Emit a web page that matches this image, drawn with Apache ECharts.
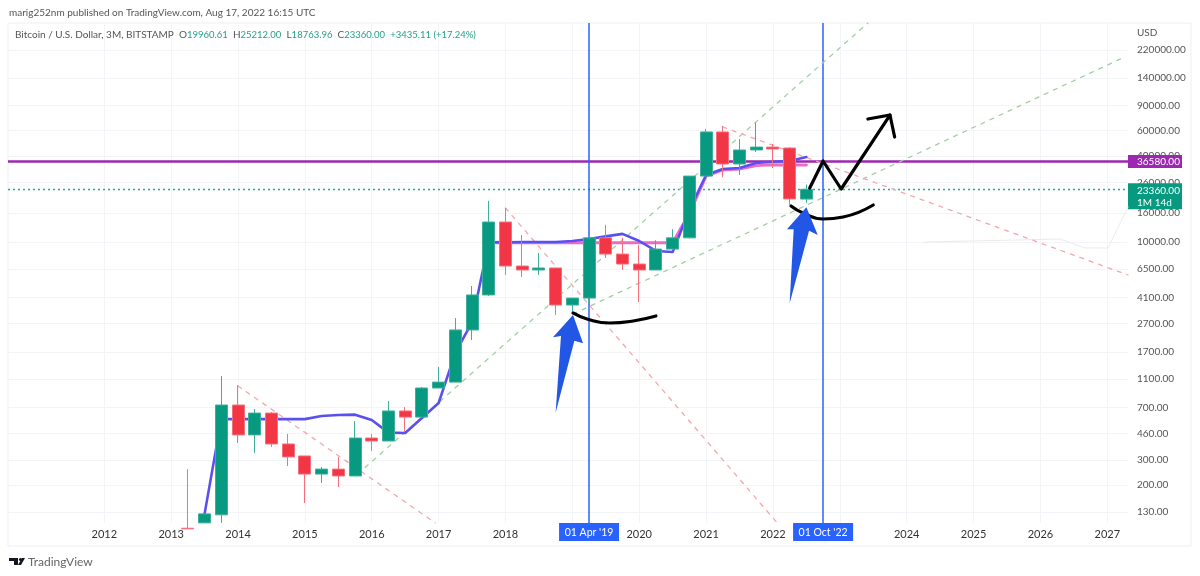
<!DOCTYPE html>
<html>
<head>
<meta charset="utf-8">
<style>
  html, body { margin: 0; padding: 0; background: #fff; }
  #chart { width: 1200px; height: 576px; }
</style>
<script src="https://cdn.jsdelivr.net/npm/echarts@6/dist/echarts.min.js"></script>
</head>
<body>
<div id="chart"></div>
<script>
// quarter start as fractional year, one per candle
const quarters = [
  2013.25, 2013.5, 2013.75,
  2014, 2014.25, 2014.5, 2014.75,
  2015, 2015.25, 2015.5, 2015.75,
  2016, 2016.25, 2016.5, 2016.75,
  2017, 2017.25, 2017.5, 2017.75,
  2018, 2018.25, 2018.5, 2018.75,
  2019, 2019.25, 2019.5, 2019.75,
  2020, 2020.25, 2020.5, 2020.75,
  2021, 2021.25, 2021.5, 2021.75,
  2022, 2022.25, 2022.5
];

// open, close, low, high
const candles = [
  [100, 99, 99, 259],
  [109, 126, 109, 126],
  [124, 726, 109, 1160],
  [726, 449, 394, 1000],
  [449, 638, 336, 681],
  [638, 388, 370, 649],
  [388, 315, 272, 456],
  [320, 239, 150, 320],
  [239, 259, 207, 268],
  [259, 232, 194, 315],
  [232, 427, 232, 560],
  [427, 407, 347, 456],
  [407, 660, 407, 775],
  [660, 598, 470, 703],
  [598, 955, 598, 970],
  [955, 1050, 955, 1340],
  [1050, 2430, 1050, 2940],
  [2430, 4270, 2070, 4930],
  [4270, 13800, 4200, 19400],
  [13800, 6800, 5890, 17300],
  [6800, 6380, 5700, 11200],
  [6380, 6590, 5890, 8380],
  [6590, 3630, 3090, 6590],
  [3630, 4060, 3300, 4060],
  [4060, 10700, 3750, 10700],
  [10700, 8240, 7730, 13200],
  [8240, 7020, 6380, 10700],
  [7020, 6380, 3810, 9530],
  [6380, 8930, 6380, 10300],
  [8930, 10700, 8930, 12300],
  [10700, 28900, 10600, 28900],
  [28900, 58800, 28900, 61700],
  [58800, 35100, 28400, 64700],
  [35100, 44000, 29400, 52500],
  [44000, 46100, 42600, 67900],
  [46100, 44700, 32900, 48400],
  [45400, 20000, 18200, 46100],
  [19960, 23360, 18764, 25212]
];

const blueQuarters = quarters.slice(1);
const blueLine = [
  126, 579, 579, 579, 579, 579, 579, 608, 618, 622, 570, 466, 463, 589, 750, 1680,
  2760, 10000, 9950, 10000, 10000, 10000, 10170, 10500, 10950, 11400, 10170,
  8660, 8520, 16750, 29400, 32400, 32900, 35700, 36400, 36800, 39300
];
const pinkQuarters = quarters.slice(18);
const pinkLine = [
  9900, 9900, 9900, 9900, 9900, 9900, 9900, 9900, 9900, 9900, 9900, 9900,
  15800, 28900, 31900, 32400, 34200, 34700, 34550, 34550
];

// drawn lines, [year, price]
const greenFans = [
  [[2015.79, 239], [2023.42, 339400]],
  [[2019.01, 3141], [2027.26, 196400]]
];
const redFans = [
  [[2014, 986], [2016.95, 109]],
  [[2018, 17300], [2022.05, 111]],
  [[2021.25, 63700], [2027.31, 5885]]
];
const grayLine = [[2024.27, 10000], [2026.29, 10500], [2026.67, 9090], [2027.01, 9090], [2027.31, 17570]];
const zigzag = [[2022.55, 23860], [2022.75, 36840], [2023.02, 23480], [2023.75, 77200]];
const arrowHead = [[2023.42, 72400], [2023.75, 77200], [2023.82, 54200]];
const curveOld = [[2019.01, 3193], [2019.22, 2899], [2019.56, 2718], [2019.91, 2807], [2020.25, 3042]];
const curveNew = [[2022.27, 17860], [2022.45, 15960], [2022.75, 14490], [2023.05, 14960], [2023.5, 18150]];
const blueArrows = [
  [[2018.75, 642], [2018.83, 2205], [2018.71, 2159], [2019.01, 3092], [2019.16, 1961], [2019.03, 2045]],
  [[2022.25, 3733], [2022.31, 12270], [2022.21, 12270], [2022.5, 17490], [2022.67, 11200], [2022.54, 12000]]
];

const yearLabels = [2012, 2013, 2014, 2015, 2016, 2017, 2018, 2020, 2021, 2022, 2024, 2025, 2026, 2027];
const yearGrid = [2012, 2013, 2014, 2015, 2016, 2017, 2018, 2019, 2020, 2021, 2022, 2023, 2024, 2025, 2026, 2027];
const priceTicks = [130, 200, 300, 460, 700, 1100, 1700, 2700, 4100, 6500, 10000, 16000, 26000, 40000, 60000, 90000, 140000, 220000];

const FONT = 'Lato, "Open Sans", sans-serif';
const GREEN = '#089981';
const RED = '#f23645';
const BLUE = '#2962ff';
const PURPLE = '#9c27b0';

function zip(xs, ys) {
  return xs.map((x, i) => [x, ys[i]]);
}

function drawnLine(data, color, width, type, smooth, z) {
  return {
    type: 'line',
    data: data,
    smooth: smooth,
    symbol: 'none',
    silent: true,
    z: z,
    lineStyle: { color: color, width: width, type: type, cap: 'round', join: 'round' }
  };
}

function arrowSeries(points) {
  return {
    type: 'custom',
    data: points,
    silent: true,
    z: 8,
    encode: { x: 0, y: 1 },
    renderItem: function (params, api) {
      if (params.dataIndex !== 0) return null;
      return {
        type: 'polygon',
        shape: { points: points.map(p => api.coord(p)) },
        style: { fill: '#2257e6' }
      };
    }
  };
}

const chart = echarts.init(document.getElementById('chart'));

chart.setOption({
  animation: false,
  backgroundColor: '#fff',
  textStyle: { fontFamily: FONT },
  title: [
    {
      text: 'marig252nm published on TradingView.com, Aug 17, 2022 16:15 UTC',
      left: 9, top: 8, padding: 0,
      textStyle: { fontFamily: FONT, fontSize: 10, fontWeight: 'normal', color: '#555' }
    },
    {
      text: '{n|Bitcoin / U.S. Dollar, 3M, BITSTAMP}  {n|O}{g|19960.61}  {n|H}{g|25212.00}  {n|L}{g|18763.96}  {n|C}{g|23360.00}  {g|+3435.11 (+17.24%)}',
      left: 15, top: 30, padding: 0,
      textStyle: {
        fontFamily: FONT, fontSize: 10, fontWeight: 'normal',
        rich: {
          n: { fontFamily: FONT, fontSize: 10, color: '#555' },
          g: { fontFamily: FONT, fontSize: 9.5, color: '#26a08a' }
        }
      }
    },
    {
      text: 'USD', left: 1137, top: 28, padding: 0,
      textStyle: { fontFamily: FONT, fontSize: 10, fontWeight: 'normal', color: '#555' }
    },
    {
      text: 'TradingView', left: 28, top: 556, padding: 0,
      textStyle: { fontFamily: FONT, fontSize: 12, fontWeight: 'normal', color: '#666' }
    }
  ],
  grid: { left: 8, right: 72, top: 23, bottom: 53 },
  xAxis: {
    type: 'value',
    min: 2010.56,
    max: 2027.31,
    axisLine: { show: false },
    axisTick: { show: false, customValues: yearGrid },
    axisLabel: {
      customValues: yearLabels,
      margin: 6,
      fontSize: 11,
      color: '#333',
      fontFamily: FONT,
      formatter: v => String(v)
    },
    splitLine: { lineStyle: { color: '#f2f4f8', width: 1 } }
  },
  yAxis: {
    type: 'log',
    logBase: 10,
    min: 108.8,
    max: 339400,
    position: 'right',
    axisLine: { show: false },
    axisTick: { show: false, customValues: priceTicks },
    axisLabel: {
      customValues: priceTicks,
      margin: 9,
      fontSize: 10,
      color: '#555',
      fontFamily: FONT,
      formatter: v => Number(v).toFixed(2)
    },
    splitLine: { show: true, lineStyle: { color: '#f2f4f8', width: 1 } }
  },
  graphic: [
    {
      type: 'rect', z: -1, silent: true,
      shape: { x: 8, y: 23, width: 1183, height: 523 },
      style: { fill: 'none', stroke: '#eceff3', lineWidth: 1 }
    },
    {
      type: 'polygon', silent: true,
      shape: { points: [[9, 558], [18, 558], [18, 565], [14, 565], [14, 561], [9, 561]] },
      style: { fill: '#131722' }
    },
    {
      type: 'circle', silent: true,
      shape: { cx: 20.5, cy: 559.5, r: 1.6 },
      style: { fill: '#131722' }
    },
    {
      type: 'polygon', silent: true,
      shape: { points: [[22, 558], [25, 558], [21, 565], [18, 565]] },
      style: { fill: '#131722' }
    }
  ],
  series: [
    {
      type: 'line',
      data: [],
      silent: true,
      markLine: {
        silent: true,
        z: 1,
        symbol: 'none',
        animation: false,
        data: [
          {
            yAxis: 36580,
            lineStyle: { color: PURPLE, width: 2.5, type: 'solid' },
            label: {
              position: 'end', distance: 0, formatter: '36580.00',
              backgroundColor: PURPLE, color: '#fff', fontFamily: FONT, fontSize: 10,
              padding: [2, 5, 1, 9], width: 40
            }
          },
          {
            yAxis: 23360,
            lineStyle: { color: '#2aa893', width: 1.3, type: [2, 3] },
            label: {
              position: 'end', distance: 0, formatter: '23360.00\n1M 14d',
              backgroundColor: GREEN, color: '#fff', fontFamily: FONT, fontSize: 10, lineHeight: 12,
              padding: [1, 5, 1, 9], width: 40, offset: [0, 7]
            }
          },
          {
            xAxis: 2019.25,
            lineStyle: { color: BLUE, width: 1.5, type: 'solid' },
            label: {
              position: 'start', distance: 0, formatter: "01 Apr '19",
              backgroundColor: BLUE, color: '#fff', fontFamily: FONT, fontSize: 10.5,
              padding: [4, 0, 3, 0], width: 60, align: 'center'
            }
          },
          {
            xAxis: 2022.75,
            lineStyle: { color: BLUE, width: 1.5, type: 'solid' },
            label: {
              position: 'start', distance: 0, formatter: "01 Oct '22",
              backgroundColor: BLUE, color: '#fff', fontFamily: FONT, fontSize: 10.5,
              padding: [4, 0, 3, 0], width: 60, align: 'center'
            }
          }
        ]
      }
    },
    drawnLine(grayLine, '#eaeaea', 1, 'solid', false, 2),
    ...greenFans.map(d => drawnLine(d, '#9fd0a3', 1.3, [4, 6], false, 2)),
    ...redFans.map(d => drawnLine(d, '#f4a6ad', 1.3, [4, 6], false, 2)),
    drawnLine(zip(pinkQuarters, pinkLine), '#ec6cc4', 3, 'solid', false, 3),
    drawnLine(zip(blueQuarters, blueLine), '#5a50f0', 2.6, 'solid', false, 3),
    {
      type: 'candlestick',
      data: quarters.map((q, i) => [q].concat(candles[i])),
      encode: { x: 0, y: [1, 2, 3, 4] },
      barWidth: 12.5,
      z: 4,
      silent: true,
      itemStyle: {
        color: GREEN,
        color0: RED,
        borderColor: '#3fae9a',
        borderColor0: '#f5707c',
        borderWidth: 1
      }
    },
    drawnLine(zigzag, '#000', 3.2, 'solid', false, 7),
    drawnLine(arrowHead, '#000', 3.2, 'solid', false, 7),
    drawnLine(curveOld, '#000', 3.2, 'solid', true, 7),
    drawnLine(curveNew, '#000', 3.2, 'solid', true, 7),
    ...blueArrows.map(arrowSeries)
  ]
});
</script>
</body>
</html>
